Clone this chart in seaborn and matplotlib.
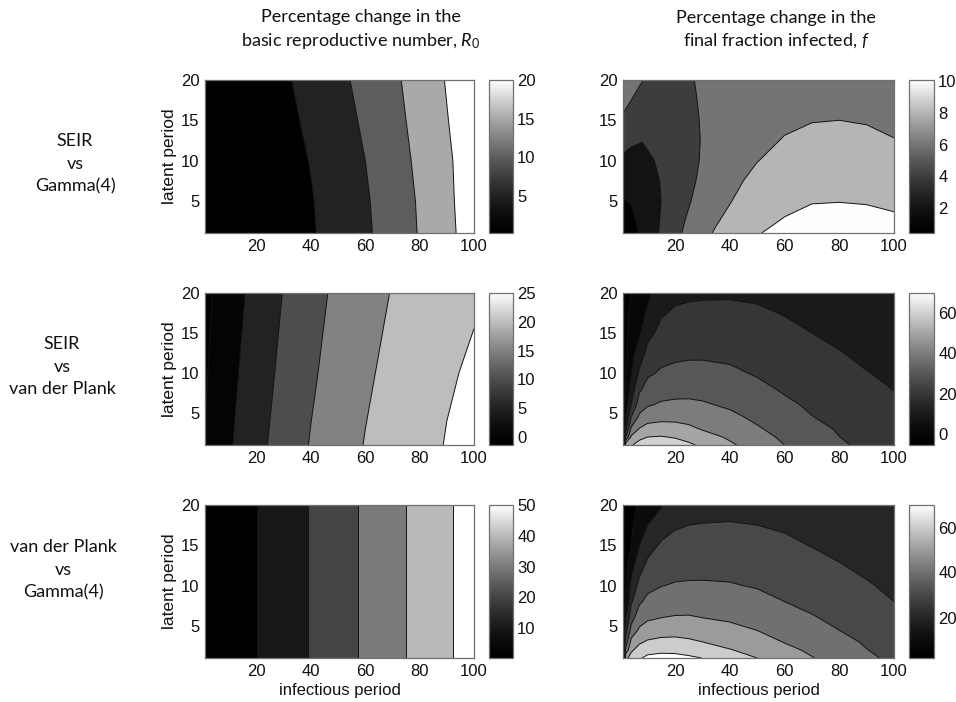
import numpy as np
import matplotlib
matplotlib.use("Agg")
import matplotlib.pyplot as plt
import seaborn as sns
from matplotlib.colors import LinearSegmentedColormap, Normalize
from matplotlib.cm import ScalarMappable

sns.set_theme(style="white")
plt.rcParams['font.family'] = ['Liberation Sans', 'DejaVu Sans']
plt.rcParams['mathtext.fontset'] = 'custom'
plt.rcParams['mathtext.rm'] = 'Lato'
plt.rcParams['mathtext.it'] = 'Lato:italic'

# ---------------- data ----------------
col_titles = ["Percentage change in the\nbasic reproductive number, $\\mathit{R}_{\\mathit{0}}$",
              "Percentage change in the\nfinal fraction infected, $\\mathit{f}$"]
row_labels = ["SEIR\nvs\nGamma(4)", "SEIR\nvs\nvan der Plank", "van der Plank\nvs\nGamma(4)"]
x_label = "infectious period"
y_label = "latent period"
x_ticks = [20, 40, 60, 80, 100]
y_ticks = [5, 10, 15, 20]

# left column: R0 change
r0_x = [1, 10, 20, 30, 40, 50, 60, 70, 80, 90, 100]
tl_y = [1, 5, 10, 15, 20]
tl_rows = [
    [0.01, 0.42, 1.40, 2.79, 4.59, 6.75, 9.26, 12.1, 15.3, 18.7, 22.5],
    [0.01, 0.46, 1.48, 2.90, 4.74, 6.95, 9.50, 12.3, 15.5, 19.0, 22.6],
    [0.02, 0.58, 1.75, 3.20, 5.20, 7.40, 10.0, 12.8, 16.0, 19.2, 22.8],
    [0.03, 0.75, 2.05, 3.75, 5.90, 8.20, 10.7, 13.5, 16.5, 19.8, 23.1],
    [0.04, 0.94, 2.45, 4.37, 6.55, 8.90, 11.4, 14.1, 16.9, 20.3, 23.4],
]
tl_levels = [5, 10, 15, 20]
tl_clim = [0.2, 20]
tl_cticks = [5, 10, 15, 20]

ml_y = [1, 10, 20]
ml_rows = [
    [0.2, 4.5, 8.6, 12.1, 15.3, 17.8, 20.2, 22.2, 23.7, 25.2, 26.4],
    [-0.5, 3.7, 7.6, 11.2, 14.3, 17.0, 19.3, 21.2, 22.8, 24.6, 25.5],
    [-1.2, 2.8, 6.6, 10.2, 13.2, 16.1, 18.3, 20.2, 21.9, 23.4, 24.6],
]
ml_levels = [0, 5, 10, 15, 20, 25]
ml_clim = [-1.4, 25]
ml_cticks = [0, 5, 10, 15, 20, 25]

bl_y = [1, 20]
bl_rows = [
    [0.3, 4.8, 10.0, 15.3, 20.6, 26.0, 31.6, 37.1, 42.8, 48.6, 54.5],
    [0.3, 4.8, 10.0, 15.3, 20.6, 26.0, 31.6, 37.1, 42.8, 48.6, 54.5],
]
bl_levels = [10, 20, 30, 40, 50]
bl_clim = [0.3, 50]
bl_cticks = [10, 20, 30, 40, 50]

# right column: final size change (columns listed per x value, bottom to top)
tr_x = [1, 4, 8, 12, 16, 20, 25, 30, 35, 40, 50, 60, 70, 80, 90, 100]
tr_y = [1, 2.5, 5, 7.5, 10, 12.5, 15, 17.5, 20]
tr_cols = [
    [0.45, 0.99, 1.9, 2.77, 3.65, 4.65, 5.74, 6.5, 6.9],
    [1.3, 1.6, 2.1, 2.85, 3.5, 4.25, 5.0, 6.0, 6.6],
    [2.4, 2.55, 2.8, 3.1, 3.5, 4.05, 4.8, 5.4, 6.05],
    [3.5, 3.55, 3.6, 3.7, 3.95, 4.4, 4.9, 5.3, 5.6],
    [4.5, 4.3, 4.15, 4.2, 4.4, 4.6, 4.9, 5.2, 5.4],
    [5.5, 5.35, 5.0, 4.8, 4.75, 4.8, 4.95, 5.1, 5.2],
    [6.5, 6.25, 5.85, 5.6, 5.5, 5.45, 5.5, 5.6, 5.75],
    [7.5, 7.1, 6.7, 6.35, 6.15, 6.1, 6.15, 6.25, 6.35],
    [8.2, 7.85, 7.35, 7.0, 6.75, 6.65, 6.65, 6.7, 6.75],
    [8.75, 8.45, 7.9, 7.5, 7.2, 7.0, 6.95, 6.95, 6.95],
    [9.9, 9.6, 9.1, 8.5, 7.95, 7.55, 7.3, 7.15, 7.1],
    [10.5, 10.1, 9.6, 9.1, 8.6, 8.1, 7.7, 7.4, 7.25],
    [10.8, 10.55, 9.9, 9.35, 8.9, 8.35, 7.95, 7.6, 7.4],
    [10.9, 10.6, 9.95, 9.4, 8.9, 8.45, 8.0, 7.65, 7.45],
    [10.8, 10.5, 9.88, 9.3, 8.8, 8.35, 7.9, 7.55, 7.35],
    [10.6, 10.25, 9.7, 9.1, 8.6, 8.05, 7.65, 7.35, 7.15],
]
tr_levels = [2, 4, 6, 8, 10]
tr_clim = [0.45, 10.05]
tr_cticks = [2, 4, 6, 8, 10]

f_x = [1, 2, 4, 7, 10, 15, 20, 25, 30, 40, 50, 60, 70, 80, 90, 100]
f_y = [1, 2, 3, 4.5, 6, 8, 10, 12.5, 15, 17.5, 20]
mr_cols = [
    [0, -1.5, -2.5, -3.2, -3.7, -4.2, -4.5, -4.8, -5.0, -5.2, -5.4],
    [57, 30, 17.5, 10, 6.05, 0.8, -1.0, -2.2, -3.0, -3.7, -4.3],
    [59, 51.5, 42, 30, 20, 14.3, 9.55, 7.3, 5.0, 2.8, 0.5],
    [64, 57.3, 50.7, 41.8, 35.6, 28.3, 21.7, 14.3, 9.05, 6.7, 4.3],
    [67, 60, 53.75, 45.7, 39.2, 33.6, 28.4, 22.9, 17.1, 11.2, 8.1],
    [68, 60.6, 54.5, 47.1, 41.2, 36.0, 31.2, 26.8, 22.9, 18.95, 15.2],
    [65, 59.2, 53.8, 47.2, 41.9, 36.7, 32.2, 28.0, 24.6, 21.2, 17.8],
    [61.7, 56.8, 52.0, 46.6, 41.9, 37.0, 32.8, 28.4, 25.1, 21.8, 18.5],
    [58.2, 53.6, 49.4, 45.3, 41.1, 36.8, 32.7, 28.5, 25.3, 22.1, 18.8],
    [51.4, 48.7, 46.1, 42.1, 38.7, 35.1, 31.5, 28.0, 25.0, 22.0, 19.0],
    [45.8, 43.4, 41.0, 38.1, 35.5, 32.1, 29.2, 26.5, 23.9, 21.2, 18.5],
    [40.0, 38.3, 36.7, 34.2, 31.7, 29.0, 27.0, 24.5, 22.0, 19.6, 17.5],
    [35.9, 34.2, 32.6, 30.2, 28.7, 26.7, 24.8, 22.4, 20.0, 17.9, 16.0],
    [31.6, 30.1, 29.2, 27.8, 26.4, 24.5, 22.6, 20.3, 18.4, 16.5, 14.8],
    [27.5, 26.7, 25.9, 24.6, 23.4, 21.8, 20.2, 18.6, 16.95, 15.35, 13.7],
    [23.6, 23.1, 22.6, 21.8, 20.9, 19.85, 18.8, 17.5, 16.2, 14.9, 13.6],
]
mr_levels = [0, 10, 20, 30, 40, 50, 60]
mr_clim = [-5.4, 70]
mr_cticks = [0, 20, 40, 60]

br_cols = [
    [9, 7, 6, 5.2, 4.6, 4.0, 3.5, 3.0, 2.6, 2.3, 2.0],
    [57, 42.9, 33.8, 26, 20, 9.7, 8.5, 7.0, 5.7, 4.6, 3.6],
    [64, 58.3, 52.8, 43.3, 36, 28.6, 22.9, 16.25, 10, 8.25, 6.5],
    [69, 63.7, 58.6, 51.4, 45.6, 38.6, 32.9, 26.25, 20, 15.75, 11.5],
    [72.2, 66.6, 61.1, 54.3, 48.5, 42.4, 37.4, 32.1, 26.25, 20, 14.2],
    [73.2, 67.8, 62.4, 55.9, 50, 44.7, 39.7, 35.5, 31.3, 25.6, 19.2],
    [72.8, 67.7, 62.6, 56.3, 50.7, 45.6, 40.7, 36.7, 32.9, 29.0, 25.2],
    [71.5, 66.5, 61.5, 55.9, 50.8, 45.8, 41.0, 37.0, 33.5, 30.0, 27.0],
    [69.9, 65, 60, 55, 50, 45.5, 41.0, 37.2, 33.7, 30.3, 27.2],
    [65, 60.4, 57.2, 52.5, 48.6, 44.6, 40.6, 37.1, 33.8, 30.5, 27.7],
    [60, 57.1, 54.1, 49.8, 46.8, 42.8, 39.3, 36.2, 33.1, 30.0, 27.3],
    [55.3, 52.4, 49.6, 46.7, 43.9, 40.0, 37.6, 34.6, 31.6, 29.0, 26.5],
    [50.4, 48.4, 46.5, 43.5, 40.6, 38.0, 35.6, 32.6, 29.7, 27.2, 24.9],
    [46.2, 44.4, 42.6, 39.9, 38.1, 35.7, 33.3, 30.4, 28.0, 25.8, 23.8],
    [41.9, 40.2, 39.0, 37.2, 35.5, 33.1, 30.7, 28.3, 26.1, 24.2, 22.5],
    [37.9, 36.7, 35.5, 33.8, 32.2, 30.0, 28.4, 26.4, 24.6, 22.9, 21.3],
]
br_levels = [10, 20, 30, 40, 50, 60, 70]
br_clim = [2, 70]
br_cticks = [20, 40, 60]

# ---------------- drawing ----------------
W, H = 956, 702
fig = plt.figure(figsize=(W / 100, H / 100), dpi=100)
fig.patch.set_facecolor("white")

gray = LinearSegmentedColormap.from_list("mgray", ["#000000", "#ffffff"], N=256, gamma=1.43)


def px_axes(l, t, r, b):
    return fig.add_axes([l / W, 1 - b / H, (r - l) / W, (b - t) / H])


panels = [
    (0, 0, r0_x, tl_y, np.array(tl_rows), tl_levels, tl_clim, tl_cticks),
    (1, 0, r0_x, ml_y, np.array(ml_rows), ml_levels, ml_clim, ml_cticks),
    (2, 0, r0_x, bl_y, np.array(bl_rows), bl_levels, bl_clim, bl_cticks),
    (0, 1, tr_x, tr_y, np.array(tr_cols).T, tr_levels, tr_clim, tr_cticks),
    (1, 1, f_x, f_y, np.array(mr_cols).T, mr_levels, mr_clim, mr_cticks),
    (2, 1, f_x, f_y, np.array(br_cols).T, br_levels, br_clim, br_cticks),
]

row_tb = [(80, 233), (293, 445), (505, 658)]
col_lr = [(205, 474), (623, 894)]
cbar_lr = [(489, 513), (909, 934)]
frame_col = "#707070"
txt_col = "#111111"
tick_fs = 12

for r, c, xs, ys, Z, levels, clim, cticks in panels:
    t, b = row_tb[r]
    l, rr = col_lr[c]
    ax = px_axes(l, t, rr, b)
    norm = Normalize(vmin=clim[0], vmax=clim[1])
    X, Y = np.meshgrid(xs, ys)
    fill_levels = [-1e6] + list(levels) + [1e6]
    fill_cols = [gray(0.0)] + [gray(norm(v)) for v in levels]
    ax.contourf(X, Y, Z, levels=fill_levels, colors=fill_cols, antialiased=True)
    ax.contourf(X, Y, Z, levels=fill_levels, colors=fill_cols, antialiased=True)
    ax.contour(X, Y, Z, levels=levels, colors="#111111", linewidths=0.7)
    ax.set_xlim(1, 100)
    ax.set_ylim(1, 20)
    ax.set_xticks(x_ticks)
    ax.set_yticks(y_ticks)
    ax.tick_params(direction="in", length=3, width=0.6, top=True, right=True,
                   labelsize=tick_fs, colors=frame_col, labelcolor=txt_col, pad=4)
    for s in ax.spines.values():
        s.set_color(frame_col)
        s.set_linewidth(0.9)
    if c == 0:
        ax.set_ylabel(y_label, fontsize=12.5, color=txt_col, labelpad=3)
    if r == 2:
        ax.set_xlabel(x_label, fontsize=12, color=txt_col, labelpad=3)

    cl, cr = cbar_lr[c]
    cax = px_axes(cl, t, cr, b)
    sm = ScalarMappable(norm=norm, cmap=gray)
    cb = fig.colorbar(sm, cax=cax, ticks=cticks)
    cb.outline.set_edgecolor(frame_col)
    cb.outline.set_linewidth(0.9)
    cax.tick_params(direction="in", length=3, width=0.6, left=True, right=True,
                    labelsize=tick_fs, colors=frame_col, labelcolor=txt_col, pad=3)

# column titles
fig.text(361 / W, 1 - 30 / H, col_titles[0], ha="center", va="center",
         fontsize=13, family="Lato", color=txt_col, linespacing=1.38)
fig.text(776 / W, 1 - 30 / H, col_titles[1], ha="center", va="center",
         fontsize=13, family="Lato", color=txt_col, linespacing=1.38)

# row labels
row_pos = [(75, 164), (62, 367), (63, 570)]
for (xp, yp), lab in zip(row_pos, row_labels):
    fig.text(xp / W, 1 - yp / H, lab, ha="center", va="center",
             fontsize=13, family="Lato", color=txt_col, linespacing=1.5)

fig.savefig("out.png", dpi=100, facecolor="white")
